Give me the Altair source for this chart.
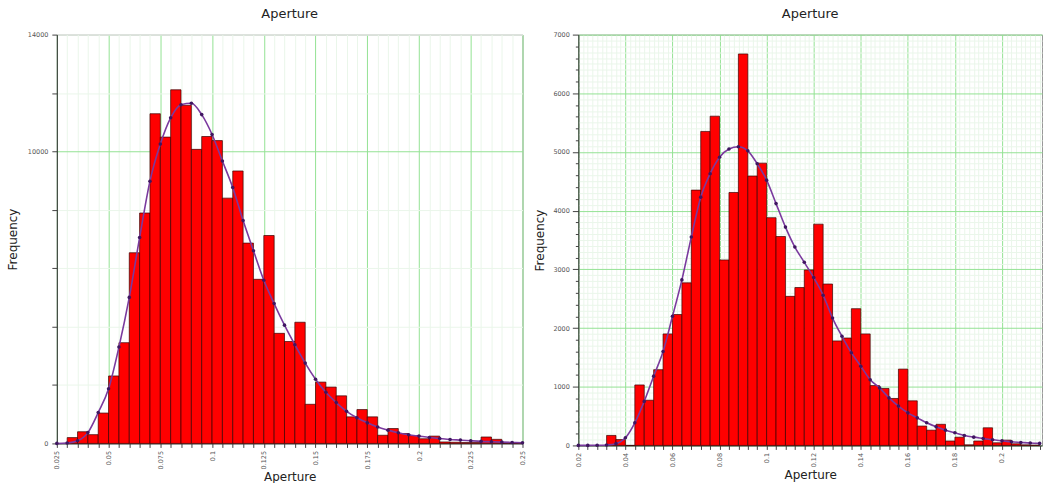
import altair as alt
import pandas as pd

# ---------------- data ----------------
# Left panel: bins of width 0.005 starting at 0.030
left_bin_width = 0.005
left_bin_lo = [round(0.030 + i * 0.005, 3) for i in range(44)]
left_counts = [200, 400, 300, 1040, 2310, 3450, 6530, 7890, 11290, 10490,
               12110, 11580, 10070, 10510, 10370, 8400, 9330, 6860, 5620, 7120,
               3770, 3490, 4150, 1340, 2100, 1930, 1630, 910, 1160, 910,
               280, 510, 340, 270, 160, 250, 50, 40, 30, 30,
               220, 140, 10, 10]
left_curve_x = [round(0.025 + i * 0.005, 3) for i in range(46)]
left_curve_y = [0, 15, 90, 370, 1060, 1870, 3300, 5000, 7050, 8980,
                10250, 11150, 11600, 11650, 11260, 10580, 9670, 8760, 7630, 6600,
                5590, 4790, 4050, 3380, 2750, 2200, 1750, 1400, 1100, 880,
                705, 560, 455, 365, 295, 250, 205, 170, 136, 114,
                91, 70, 57, 45, 34, 25]

# Right panel: bins of width 0.004 starting at 0.032
right_bin_width = 0.004
right_bin_lo = [round(0.032 + i * 0.004, 3) for i in range(46)]
right_counts = [170, 100, 0, 1030, 770, 1290, 1900, 2230, 2770, 4350,
                5350, 5610, 3160, 4310, 6670, 4590, 4810, 3880, 3560, 2540,
                2690, 2990, 3770, 2750, 1780, 1830, 2330, 1900, 1020, 970,
                800, 1300, 760, 330, 260, 360, 75, 140, 10, 75,
                300, 45, 90, 28, 10, 5]
right_curve_x = [round(0.020 + i * 0.004, 3) for i in range(50)]
right_curve_y = [0, 0, 2, 8, 30, 130, 385, 750, 1180, 1600,
                 2200, 2820, 3550, 4230, 4630, 4910, 5050, 5090, 5020, 4800,
                 4520, 4120, 3720, 3380, 3120, 2860, 2560, 2170, 1860, 1580,
                 1350, 1120, 980, 810, 670, 555, 470, 385, 317, 260,
                 215, 170, 141, 119, 96, 79, 62, 51, 40, 34]

left_bars = pd.DataFrame({"x": left_bin_lo, "y": left_counts})
left_bars["x_end"] = (left_bars["x"] + left_bin_width).round(4)
left_curve = pd.DataFrame({"x": left_curve_x, "y": left_curve_y})
right_bars = pd.DataFrame({"x": right_bin_lo, "y": right_counts})
right_bars["x_end"] = (right_bars["x"] + right_bin_width).round(4)
right_curve = pd.DataFrame({"x": right_curve_x, "y": right_curve_y})

# ---------------- styling ----------------
MAJOR = "#94e294"
MINOR = "#eaf6ea"
FONT = "DejaVu Sans"
LABEL_COLOR = "#555555"


def mult(step):
    return f"abs(datum.value/{step} - round(datum.value/{step})) < 0.001"


def cond(test, a, b):
    return {"condition": {"test": test, "value": a}, "value": b}


common = dict(labelOverlap=False, labelFlush=False, labelBound=False,
              tickCount=1000,
              labelFontSize=6.5, labelColor=LABEL_COLOR, labelFont=FONT,
              tickColor="#444", gridWidth=1, domainColor="#333",
              titleFont=FONT, titleFontSize=12, titleFontWeight="normal",
              titleColor="#222")

left_x_axis = alt.Axis(
    title="Aperture",
    values=[round(0.025 + i * 0.005, 3) for i in range(46)],
    labelExpr=f"{mult(0.025)} ? format(datum.value, '~g') : ''",
    labelAngle=270, labelPadding=3, tickSize=4,
    gridColor=cond(mult(0.025), MAJOR, MINOR), titlePadding=3, **common,
)
left_y_axis = alt.Axis(
    title="Frequency",
    values=[i * 2000 for i in range(8)],
    labelExpr="(datum.value == 0 || datum.value == 10000 || datum.value == 14000) ? '' + datum.value : ''",
    labelPadding=4, tickSize=5,
    gridColor=cond("datum.value == 10000", MAJOR, MINOR), titlePadding=8, **common,
)

right_x_axis = alt.Axis(
    title="Aperture",
    values=[round(0.020 + i * 0.002, 3) for i in range(99)],
    labelExpr=f"{mult(0.02)} ? format(datum.value, '~g') : ''",
    labelAngle=270, labelPadding=3, tickSize=cond(mult(0.004), 4, 0),
    gridColor=cond(mult(0.02), MAJOR, MINOR), titlePadding=3, **common,
)
right_y_axis = alt.Axis(
    title="Frequency",
    values=[i * 100 for i in range(71)],
    labelExpr="datum.value % 1000 == 0 ? '' + datum.value : ''",
    labelPadding=3,
    tickSize={"condition": [{"test": "datum.value % 1000 == 0", "value": 6},
                            {"test": "datum.value % 200 == 0", "value": 3}],
              "value": 0},
    gridColor=cond("datum.value % 1000 == 0", MAJOR, MINOR), titlePadding=6, **common,
)


def panel(bars_df, curve_df, xdom, ydom, xaxis, yaxis, w, h):
    xs = alt.Scale(domain=xdom, nice=False, zero=False)
    ys = alt.Scale(domain=ydom, nice=False)
    bars = alt.Chart(bars_df).mark_bar(
        color="#ff0000", stroke="#3a0000", strokeWidth=0.7, opacity=1
    ).encode(
        x=alt.X("x:Q", scale=xs, axis=xaxis),
        x2="x_end:Q",
        y=alt.Y("y:Q", scale=ys, axis=yaxis),
        y2=alt.datum(0),
    )
    line = alt.Chart(curve_df).mark_line(
        color="#7a3a9e", strokeWidth=1.6, interpolate="monotone"
    ).encode(x=alt.X("x:Q", scale=xs), y=alt.Y("y:Q", scale=ys))
    pts = alt.Chart(curve_df).mark_circle(
        color="#3f1660", size=13, opacity=1
    ).encode(x=alt.X("x:Q", scale=xs), y=alt.Y("y:Q", scale=ys))
    return alt.layer(bars, line, pts).properties(
        width=w, height=h,
        title=alt.TitleParams("Aperture", font=FONT, fontSize=13,
                              fontWeight="normal", color="#222", offset=11),
    )


left = panel(left_bars, left_curve, [0.025, 0.25], [0, 14000],
             left_x_axis, left_y_axis, 467, 410)
right = panel(right_bars, right_curve, [0.02, 0.217], [0, 7000],
              right_x_axis, right_y_axis, 465, 412)

chart = alt.hconcat(left, right, spacing=56, bounds="flush").properties(
    padding={"left": 5, "top": 6, "right": 0, "bottom": 0},
    background="white",
).configure_view(stroke="#999999", strokeWidth=1)

chart.save("out.html", embed_options={"renderer": "svg", "actions": False})
